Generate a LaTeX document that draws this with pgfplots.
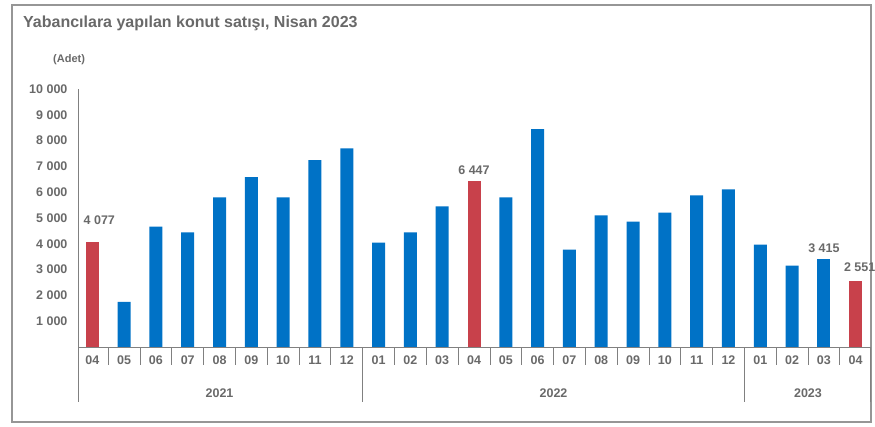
\documentclass[border=0pt]{standalone}
\usepackage{pgfplots}
\pgfplotsset{compat=1.18}
\usepackage{fontspec}
\setmainfont{Liberation Sans}
\definecolor{barblue}{RGB}{0,114,198}
\definecolor{barred}{RGB}{200,65,75}
\definecolor{txt}{RGB}{105,105,105}
\definecolor{frm}{RGB}{150,150,150}
\begin{document}
\begin{tikzpicture}[x=1pt,y=1pt]
\path[use as bounding box] (0,0) rectangle (875,427);
\draw[frm, line width=1.5pt] (12,5) rectangle (871,422);
\node[anchor=west, font=\bfseries\fontsize{16}{18}\selectfont, text=txt, inner sep=0pt] at (23,404) {Yabancılara yapılan konut satışı, Nisan 2023};
\node[anchor=west, font=\bfseries\fontsize{11}{13}\selectfont, text=txt, inner sep=0pt] at (53,367) {(Adet)};
\begin{axis}[
  at={(78pt,80pt)}, anchor=south west,
  scale only axis, width=792pt, height=258pt,
  xmin=-0.45, xmax=24.45, ymin=0, ymax=10000,
  axis x line=bottom, axis y line=left,
  axis line style={-, draw=gray, line width=0.8pt},
  ybar, bar width=13pt, bar shift=0pt,
  clip=false,
  tick align=outside,
  major tick length=0pt,
  scaled y ticks=false,
  ytick={1000,2000,...,10000},
  yticklabel style={/pgf/number format/fixed, /pgf/number format/precision=0, /pgf/number format/1000 sep={\ }, /pgf/number format/assume math mode=true, font=\bfseries\fontsize{12.5}{14}\selectfont, text=txt, xshift=-7pt},
  xtick={0,...,24},
  xticklabels={04,05,06,07,08,09,10,11,12,01,02,03,04,05,06,07,08,09,10,11,12,01,02,03,04},
  xticklabel style={font=\bfseries\fontsize{12.5}{14}\selectfont, text=txt, yshift=-5pt},
  minor xtick={0.5,1.5,...,7.5,9.5,10.5,...,19.5,21.5,22.5,23.5},
  minor tick length=18pt,
  minor x tick style={draw=gray, line width=0.8pt},
  extra x ticks={-0.45,8.5,20.5,24.45},
  extra x tick labels={},
  extra x tick style={major tick length=55pt, tick style={draw=gray, line width=0.8pt}},
  every node near coord/.append style={font=\bfseries\fontsize{12.5}{14}\selectfont, text=txt, /pgf/number format/1000 sep={\ }, /pgf/number format/assume math mode=true},
]
\addplot[fill=barblue, draw=none] coordinates {
(1,1750)(2,4670)(3,4440)(4,5800)(5,6580)(6,5800)(7,7240)(8,7700)
(9,4050)(10,4440)(11,5450)(13,5800)(14,8440)(15,3770)(16,5100)(17,4860)(18,5210)(19,5880)(20,6110)
(21,3970)(22,3150)};
\addplot[fill=barblue, draw=none, nodes near coords, nodes near coords style={yshift=3pt}] coordinates {(23,3415)};
\addplot[fill=barred, draw=none, nodes near coords, nodes near coords style={xshift=7pt, yshift=14pt}] coordinates {(0,4077)};
\addplot[fill=barred, draw=none, nodes near coords, nodes near coords style={yshift=3pt}] coordinates {(12,6447)};
\addplot[fill=barred, draw=none, nodes near coords, nodes near coords style={xshift=4pt, yshift=6pt}] coordinates {(24,2551)};
\node[font=\bfseries\fontsize{12.5}{14}\selectfont, text=txt] at (axis cs:4,0) [yshift=-46pt] {2021};
\node[font=\bfseries\fontsize{12.5}{14}\selectfont, text=txt] at (axis cs:14.5,0) [yshift=-46pt] {2022};
\node[font=\bfseries\fontsize{12.5}{14}\selectfont, text=txt] at (axis cs:22.5,0) [yshift=-46pt] {2023};
\end{axis}
\end{tikzpicture}
\end{document}
